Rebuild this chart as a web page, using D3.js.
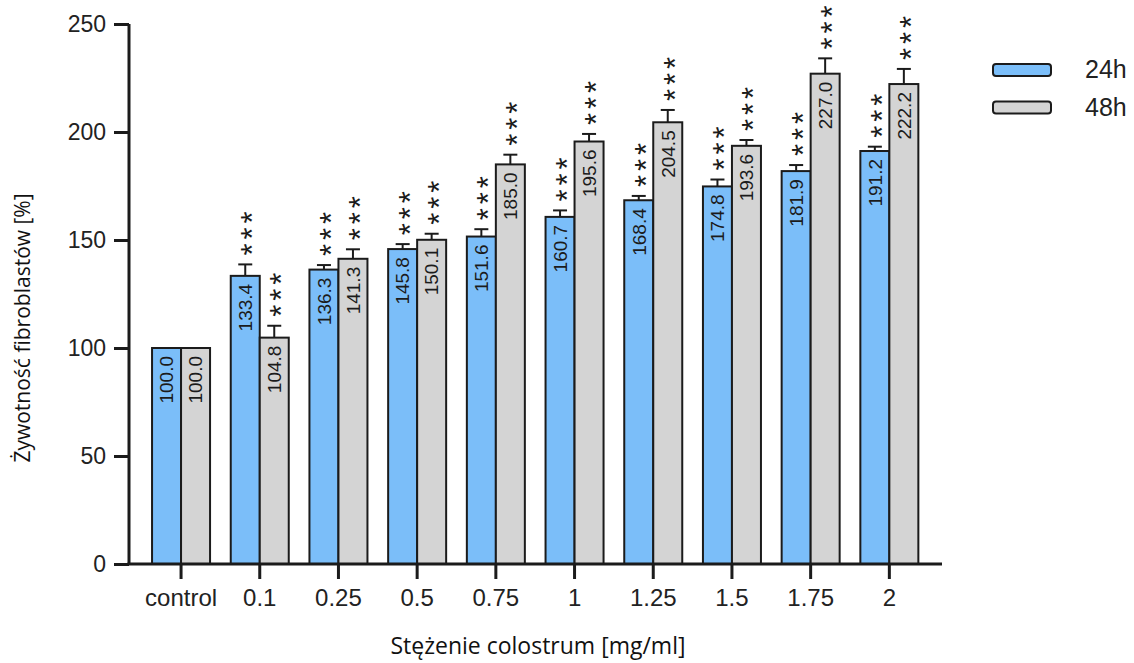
<!DOCTYPE html>
<html>
<head>
<meta charset="utf-8">
<script src="https://cdn.jsdelivr.net/npm/d3@7"></script>
<style>
  html, body { margin: 0; padding: 0; background: #fff; }
  svg { display: block; }
</style>
</head>
<body>
<svg id="chart" width="1134" height="663"></svg>
<script>
// Fibroblast viability after colostrum exposure, 24h vs 48h
const categories = ["control", "0.1", "0.25", "0.5", "0.75", "1", "1.25", "1.5", "1.75", "2"];
const series = ["24h", "48h"];
const values24h = [100.0, 133.4, 136.3, 145.8, 151.6, 160.7, 168.4, 174.8, 181.9, 191.2];
const values48h = [100.0, 104.8, 141.3, 150.1, 185.0, 195.6, 204.5, 193.6, 227.0, 222.2];
const errors24h = [0, 5.3, 2.1, 2.3, 3.4, 3.0, 2.0, 3.2, 2.8, 2.0];
const errors48h = [0, 5.5, 4.4, 2.8, 4.5, 3.5, 5.7, 2.7, 7.1, 7.0];
const signif24h = ["", "***", "***", "***", "***", "***", "***", "***", "***", "***"];
const signif48h = ["", "***", "***", "***", "***", "***", "***", "***", "***", "***"];
const yTicks = [0, 50, 100, 150, 200, 250];

const colors = { "24h": "#7bbef9", "48h": "#d4d4d4" };
const stroke = "#1b1b1b";
const numFont = "'Liberation Sans', Arial, Helvetica, sans-serif";
const titleFont = "'Open Sans', 'Noto Sans', sans-serif";

const rows = categories.map((c, i) => ({
  cat: c,
  bars: [
    { key: "24h", value: values24h[i], err: errors24h[i], sig: signif24h[i] },
    { key: "48h", value: values48h[i], err: errors48h[i], sig: signif48h[i] }
  ]
}));

const svg = d3.select("#chart");

const x = d3.scaleBand()
  .domain(categories)
  .range([141.7, 928.7])
  .paddingInner(0.263)
  .paddingOuter(0.1315);

const xSub = d3.scaleBand()
  .domain(series)
  .range([0, x.bandwidth()]);

const y = d3.scaleLinear().domain([0, 250]).range([564, 24]);

// Bars
const groups = svg.append("g")
  .selectAll("g")
  .data(rows)
  .join("g")
  .attr("transform", d => `translate(${x(d.cat)},0)`);

const bar = groups.selectAll("g.bar")
  .data(d => d.bars)
  .join("g")
  .attr("class", "bar");

bar.append("rect")
  .attr("x", d => xSub(d.key))
  .attr("y", d => y(d.value))
  .attr("width", xSub.bandwidth())
  .attr("height", d => y(0) - y(d.value))
  .attr("fill", d => colors[d.key])
  .attr("stroke", stroke)
  .attr("stroke-width", 2);

// Error bars (upper whisker only)
const errG = bar.filter(d => d.err > 0).append("g")
  .attr("stroke", stroke)
  .attr("stroke-width", 2);
errG.append("line")
  .attr("x1", d => xSub(d.key) + xSub.bandwidth() / 2)
  .attr("x2", d => xSub(d.key) + xSub.bandwidth() / 2)
  .attr("y1", d => y(d.value))
  .attr("y2", d => y(d.value + d.err));
errG.append("line")
  .attr("x1", d => xSub(d.key) + xSub.bandwidth() / 2 - 7)
  .attr("x2", d => xSub(d.key) + xSub.bandwidth() / 2 + 7)
  .attr("y1", d => y(d.value + d.err))
  .attr("y2", d => y(d.value + d.err));

// Value labels inside bars, rotated
bar.append("text")
  .attr("transform", d => `translate(${xSub(d.key) + xSub.bandwidth() / 2},${y(d.value) + 8}) rotate(-90)`)
  .attr("text-anchor", "end")
  .attr("dy", "0.36em")
  .attr("font-family", numFont)
  .attr("font-size", 19)
  .attr("fill", "#1b1b1b")
  .text(d => d.value.toFixed(1));

// Significance stars stacked above error bars
bar.each(function (d) {
  const n = d.sig.length;
  const cx = xSub(d.key) + xSub.bandwidth() / 2;
  const top = y(d.value + d.err);
  for (let k = 0; k < n; k++) {
    d3.select(this).append("text")
      .attr("transform", `translate(${cx},${top - 15 - k * 16}) rotate(-90)`)
      .attr("text-anchor", "middle")
      .attr("dy", "0.58em")
      .attr("font-family", numFont)
      .attr("font-size", 31)
      .attr("fill", "#1b1b1b")
      .text("*");
  }
});

// Y axis
const yAxis = svg.append("g")
  .attr("transform", "translate(129,0)")
  .call(d3.axisLeft(y).tickValues(yTicks).tickSize(15).tickPadding(8));
yAxis.select(".domain").attr("d", `M0,${y(250)}V${y(0)}`).attr("stroke", stroke).attr("stroke-width", 3);
yAxis.selectAll(".tick line").attr("stroke", stroke).attr("stroke-width", 3);
yAxis.selectAll(".tick text")
  .attr("font-family", numFont)
  .attr("font-size", 23)
  .attr("fill", "#222");

// X axis
const xAxis = svg.append("g")
  .attr("transform", `translate(0,${y(0)})`)
  .call(d3.axisBottom(x).tickSize(15).tickPadding(10));
xAxis.select(".domain").attr("d", "M127.5,0H942").attr("stroke", stroke).attr("stroke-width", 3);
xAxis.selectAll(".tick line").attr("stroke", stroke).attr("stroke-width", 3);
xAxis.selectAll(".tick text")
  .attr("font-family", numFont)
  .attr("font-size", 24)
  .attr("fill", "#222");

// Axis titles
svg.append("text")
  .attr("transform", "translate(30,328) rotate(-90)")
  .attr("text-anchor", "middle")
  .attr("font-family", titleFont)
  .attr("font-size", 21)
  .attr("fill", "#111")
  .text("Żywotność fibroblastów [%]");

svg.append("text")
  .attr("x", 538)
  .attr("y", 654)
  .attr("text-anchor", "middle")
  .attr("font-family", titleFont)
  .attr("font-size", 23)
  .attr("fill", "#111")
  .text("Stężenie colostrum [mg/ml]");

// Legend
const legend = svg.append("g")
  .selectAll("g")
  .data(series)
  .join("g")
  .attr("transform", (d, i) => `translate(993,${64 + i * 37.5})`);
legend.append("rect")
  .attr("width", 58)
  .attr("height", 12)
  .attr("rx", 3)
  .attr("fill", d => colors[d])
  .attr("stroke", stroke)
  .attr("stroke-width", 2);
legend.append("text")
  .attr("x", 92)
  .attr("y", 14)
  .attr("font-family", numFont)
  .attr("font-size", 25)
  .attr("fill", "#222")
  .text(d => d);
</script>
</body>
</html>
